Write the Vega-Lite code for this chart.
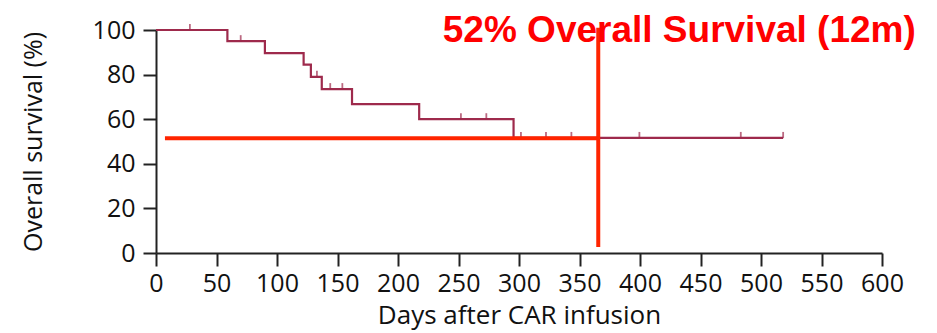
{
  "$schema": "https://vega.github.io/schema/vega-lite/v6.json",
  "width": 726,
  "height": 223,
  "autosize": {"type": "none"},
  "padding": {"left": 156, "top": 30, "right": 55, "bottom": 80},
  "background": "white",
  "config": {
    "view": {"stroke": null},
    "axis": {
      "grid": false,
      "domainColor": "#222222",
      "domainWidth": 2,
      "tickColor": "#222222",
      "tickWidth": 2,
      "tickSize": 13,
      "labelFont": "Open Sans",
      "labelFontSize": 25,
      "labelColor": "#111111",
      "titleFont": "Open Sans",
      "titleFontSize": 25,
      "titleFontWeight": "normal",
      "titleColor": "#111111"
    }
  },
  "datasets": {
    "curve": [
      {"day": 0, "surv": 100},
      {"day": 59, "surv": 95},
      {"day": 90, "surv": 89.6},
      {"day": 122, "surv": 84.5},
      {"day": 128, "surv": 79},
      {"day": 137, "surv": 73.5},
      {"day": 162, "surv": 66.8},
      {"day": 217.5, "surv": 60},
      {"day": 295.5, "surv": 51.6},
      {"day": 518.3, "surv": 51.6}
    ],
    "censor": [
      {"day": 28, "surv": 100},
      {"day": 70, "surv": 95},
      {"day": 133, "surv": 79},
      {"day": 144, "surv": 73.5},
      {"day": 154, "surv": 73.5},
      {"day": 252, "surv": 60},
      {"day": 273, "surv": 60},
      {"day": 301.6, "surv": 51.6},
      {"day": 322.3, "surv": 51.6},
      {"day": 343.3, "surv": 51.6},
      {"day": 399.5, "surv": 51.6},
      {"day": 483.3, "surv": 51.6},
      {"day": 518.3, "surv": 51.6}
    ],
    "refs": [
      {"x": 7.4, "x2": 365.5, "y": 51.5, "y2": 51.5},
      {"x": 365.5, "x2": 365.5, "y": 2.7, "y2": 101}
    ],
    "note": [
      {"label": "52% Overall Survival (12m)", "day": 237, "surv": 94.5}
    ]
  },
  "layer": [
    {
      "data": {"name": "curve"},
      "mark": {"type": "line", "interpolate": "step-after", "color": "#9e2a4c", "strokeWidth": 2.2},
      "encoding": {
        "x": {
          "field": "day", "type": "quantitative",
          "scale": {"domain": [0, 600], "nice": false, "zero": true},
          "axis": {"values": [0, 50, 100, 150, 200, 250, 300, 350, 400, 450, 500, 550, 600], "title": "Days after CAR infusion", "titleFontSize": 26, "labelPadding": 5, "titlePadding": 6, "labelFlush": false}
        },
        "y": {
          "field": "surv", "type": "quantitative",
          "scale": {"domain": [0, 100], "nice": false},
          "axis": {"values": [0, 20, 40, 60, 80, 100], "title": "Overall survival (%)", "labelPadding": 8, "titlePadding": 46, "labelFlush": false}
        }
      }
    },
    {
      "data": {"name": "censor"},
      "mark": {"type": "tick", "orient": "vertical", "color": "#9e2a4c", "thickness": 1.8, "size": 6, "yOffset": -3},
      "encoding": {
        "x": {"field": "day", "type": "quantitative"},
        "y": {"field": "surv", "type": "quantitative"}
      }
    },
    {
      "data": {"name": "refs"},
      "mark": {"type": "rule", "color": "#ff2400", "strokeWidth": 4},
      "encoding": {
        "x": {"field": "x", "type": "quantitative"},
        "x2": {"field": "x2"},
        "y": {"field": "y", "type": "quantitative"},
        "y2": {"field": "y2"}
      }
    },
    {
      "data": {"name": "note"},
      "mark": {"type": "text", "font": "Liberation Sans", "fontWeight": "bold", "fontSize": 37, "color": "#ff0000", "align": "left", "baseline": "alphabetic"},
      "encoding": {
        "text": {"field": "label"},
        "x": {"field": "day", "type": "quantitative"},
        "y": {"field": "surv", "type": "quantitative"}
      }
    }
  ]
}
